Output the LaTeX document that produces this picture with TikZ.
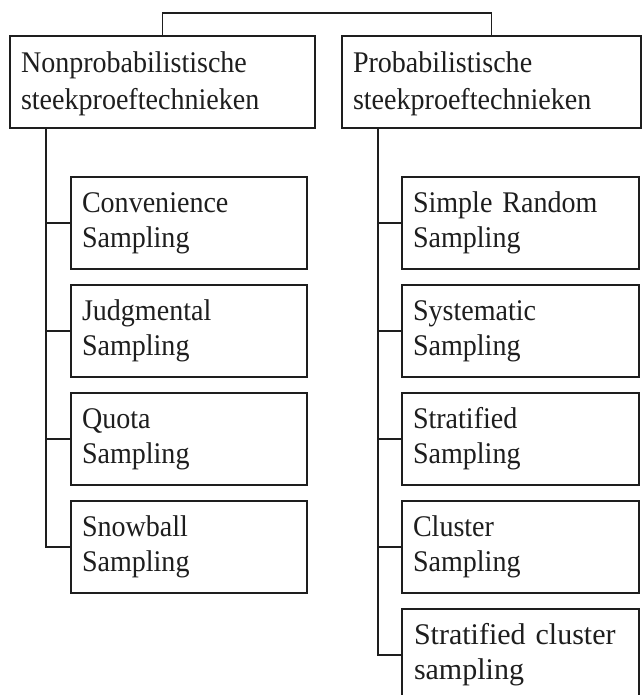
\documentclass[tikz,border=0pt]{standalone}
\usepackage{fontspec}
\setmainfont{Liberation Serif}[FakeStretch=0.935]
\newfontfamily\widefont{Liberation Serif}
\usetikzlibrary{calc}
\definecolor{ink}{HTML}{1E1E1E}
\tikzset{
  box/.style={draw=ink, line width=1.6pt, rectangle, align=left, inner xsep=11pt, inner ysep=0pt,
    font=\fontsize{30}{35}\selectfont, text=ink},
  head/.style={box, minimum height=92pt, font=\fontsize{30}{37}\selectfont},
  leaf/.style={box, minimum height=92pt, text width=214pt},
  link/.style={draw=ink, line width=1.6pt}
}
\begin{document}
\begin{tikzpicture}[x=1pt, y=-1pt]
\useasboundingbox (0,0) rectangle (643,695);
\clip (0,0) rectangle (643,695);
\fill[white] (0,0) rectangle (643,695);
% top level
\node[head, text width=283pt] (np) at (162.5,82) {\rule{0pt}{25pt}Nonprobabilistische\\steekproeftechnieken};
\node[head, text width=277pt] (pr) at (491.5,82) {\rule{0pt}{25pt}Probabilistische\\steekproeftechnieken};
\coordinate (bar) at (0,13);
\draw[link] (np.north) |- (bar -| pr.north) -- (pr.north);
% left column
\node[leaf] (c1) at (189,223) {Convenience\\Sampling};
\node[leaf] (c2) at (189,331) {Judgmental\\Sampling};
\node[leaf] (c3) at (189,439) {Quota\\Sampling};
\node[leaf] (c4) at (189,547) {Snowball\\Sampling};
% right column
\node[leaf, text width=215pt] (r1) at (520.5,223) {Simple Random\\Sampling};
\node[leaf, text width=215pt] (r2) at (520.5,331) {Systematic\\Sampling};
\node[leaf, text width=215pt] (r3) at (520.5,439) {Stratified\\Sampling};
\node[leaf, text width=215pt] (r4) at (520.5,547) {Cluster\\Sampling};
\node[leaf, text width=213pt, inner xsep=12pt, font=\widefont\fontsize{30}{35}\selectfont] (r5) at (520.5,655) {Stratified cluster\\sampling};
% connectors
\foreach \c in {c1,c2,c3,c4} \draw[link] ([xshift=37pt]np.south west) |- (\c.west);
\foreach \c in {r1,r2,r3,r4,r5} \draw[link] ([xshift=37pt]pr.south west) |- (\c.west);
\end{tikzpicture}
\end{document}
